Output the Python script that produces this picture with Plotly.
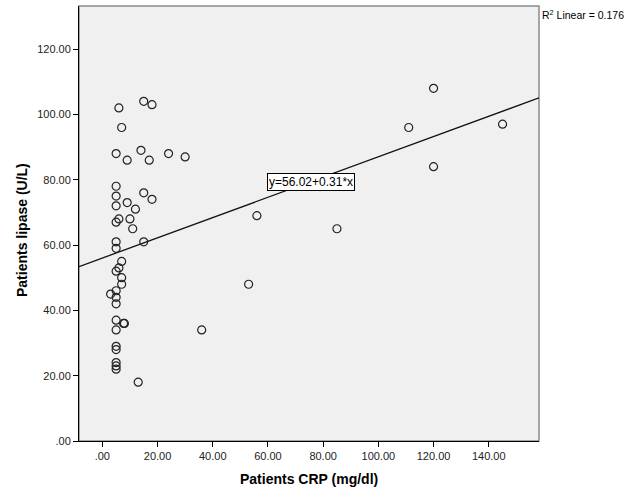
import plotly.graph_objects as go

# Data
crp = [120, 111, 145, 120, 56, 85, 53, 36, 13,
       6, 15, 18, 7, 5, 9, 14, 17, 24, 30,
       5, 5, 5, 15, 18, 9, 12, 6, 5, 10, 11,
       5, 15, 5, 7, 6, 5, 7, 7, 5, 3, 5, 5,
       5, 8, 7.7, 5, 5, 5, 5, 5, 5]
lipase = [108, 96, 97, 84, 69, 65, 48, 34, 18,
          102, 104, 103, 96, 88, 86, 89, 86, 88, 87,
          78, 75, 72, 76, 74, 73, 71, 68, 67, 68, 65,
          61, 61, 59, 55, 53, 52, 50, 48, 46, 45, 44, 42,
          37, 36, 36, 34, 29, 28, 24, 23, 22]

intercept = 56.02
slope = 0.31
r2 = 0.176

x_range = [-8.45, 158.2]
y_range = [0, 133.2]

x_tickvals = [0, 20, 40, 60, 80, 100, 120, 140]
x_ticktext = [".00", "20.00", "40.00", "60.00", "80.00", "100.00", "120.00", "140.00"]
y_tickvals = [0, 20, 40, 60, 80, 100, 120]
y_ticktext = [".00", "20.00", "40.00", "60.00", "80.00", "100.00", "120.00"]

x_title = "Patients CRP (mg/dl)"
y_title = "Patients lipase (U/L)"

FONT = "Liberation Sans, Arial, sans-serif"

W, H = 625, 500
ML, MR, MT, MB = 79, 86, 6, 59
PW, PH = W - ML - MR, H - MT - MB

fig = go.Figure()

fig.add_trace(go.Scatter(
    x=x_range,
    y=[intercept + slope * v for v in x_range],
    mode="lines",
    line=dict(color="#111111", width=1.3),
    hoverinfo="skip",
    showlegend=False,
))

fig.add_trace(go.Scatter(
    x=crp, y=lipase,
    mode="markers",
    marker=dict(symbol="circle-open", size=8, color="#222222",
                line=dict(width=1.2, color="#222222")),
    showlegend=False,
))

ann_x = 75.6
fig.add_annotation(
    x=ann_x, y=intercept + slope * ann_x,
    xref="x", yref="y",
    text=f"y={intercept:.2f}+{slope:.2f}*x",
    showarrow=False,
    font=dict(family=FONT, size=12, color="#000000"),
    bgcolor="#ffffff",
    bordercolor="#000000",
    borderwidth=1,
    borderpad=1,
)

fig.add_annotation(
    x=1.0, y=1.0, xref="paper", yref="paper",
    xanchor="left", yanchor="top",
    xshift=1, yshift=0,
    text=f"R<sup>2</sup> Linear = {r2:.3f}",
    showarrow=False,
    font=dict(family=FONT, size=10.5, color="#000000"),
)

# axis titles as annotations for exact placement
fig.add_annotation(
    x=0.5, y=-(479 - (H - MB)) / PH,
    xref="paper", yref="paper", xanchor="center", yanchor="middle",
    text=f"<b>{x_title}</b>", showarrow=False,
    font=dict(family=FONT, size=14, color="#000000"),
)
fig.add_annotation(
    x=-(ML - 22) / PW, y=0.485,
    xref="paper", yref="paper", xanchor="center", yanchor="middle",
    text=f"<b>{y_title}</b>", showarrow=False, textangle=-90,
    font=dict(family=FONT, size=14, color="#000000"),
)

# frame (top/right in grey)
fig.add_shape(type="rect", xref="paper", yref="paper", x0=0, y0=0, x1=1, y1=1,
              line=dict(color="#8a8a8a", width=1.5), layer="below")

fig.update_layout(
    width=W, height=H,
    margin=dict(l=ML, r=MR, t=MT, b=MB, autoexpand=False),
    paper_bgcolor="#ffffff",
    plot_bgcolor="#f0f0f0",
    font=dict(family=FONT, size=11, color="#222222"),
    xaxis=dict(
        range=x_range, tickvals=x_tickvals, ticktext=x_ticktext,
        showgrid=False, zeroline=False, automargin=False,
        showline=True, linecolor="#000000", linewidth=1,
        ticks="outside", ticklen=5, tickcolor="#000000",
        tickfont=dict(family=FONT, size=11, color="#222222"),
    ),
    yaxis=dict(
        range=y_range, tickvals=y_tickvals, ticktext=y_ticktext,
        showgrid=False, zeroline=False, automargin=False,
        showline=True, linecolor="#000000", linewidth=1,
        ticks="outside", ticklen=5, tickcolor="#000000",
        tickfont=dict(family=FONT, size=11, color="#222222"),
    ),
)

fig.write_html(
    "out.html",
    config={"displayModeBar": False},
    post_script="document.body.style.margin='0';document.body.style.overflow='hidden';",
)
